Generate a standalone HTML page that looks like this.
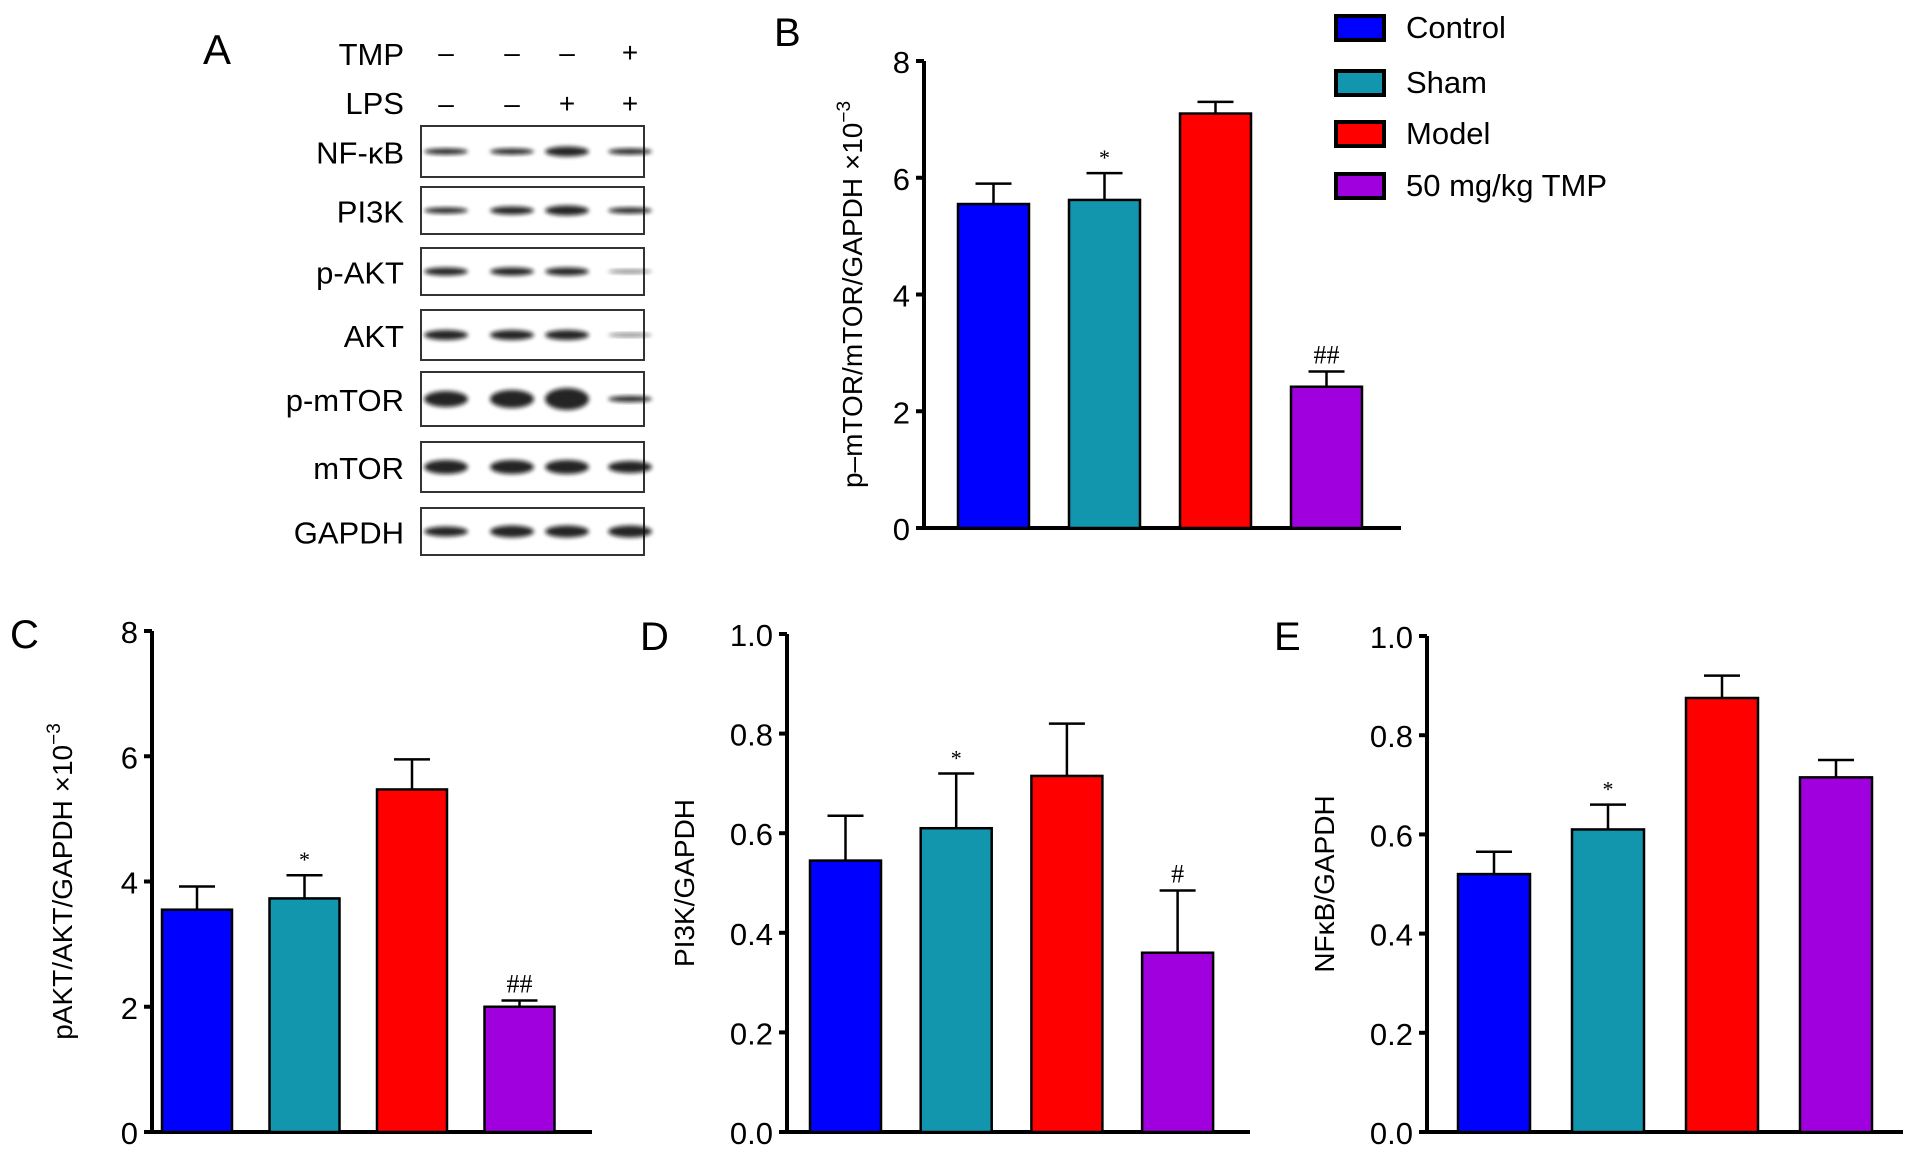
<!DOCTYPE html>
<html><head><meta charset="utf-8">
<style>
html,body{margin:0;padding:0;background:#fff;}
svg{display:block;font-family:"Liberation Sans",sans-serif;}
</style></head>
<body>
<svg id="fig" width="1913" height="1159" viewBox="0 0 1913 1159">
<defs><filter id="blur" x="-20%" y="-50%" width="140%" height="200%"><feGaussianBlur stdDeviation="2"/></filter></defs>
<g id="blot"></g>
<g id="charts"></g>
</svg>
<script>
const categories = ["Control","Sham","Model","50 mg/kg TMP"];
const colors = ["#0000ff","#1196ad","#ff0000","#a000dd"];
const valuesB = [5.55, 5.62, 7.1, 2.42];
const errorsB = [0.35, 0.46, 0.2, 0.26];
const marksB = ["", "*", "", "##"];
const ticksB = [0,2,4,6,8];
const valuesC = [3.55, 3.73, 5.47, 2.0];
const errorsC = [0.37, 0.37, 0.48, 0.1];
const marksC = ["", "*", "", "##"];
const ticksC = [0,2,4,6,8];
const valuesD = [0.545, 0.61, 0.715, 0.36];
const errorsD = [0.09, 0.11, 0.105, 0.125];
const marksD = ["", "*", "", "#"];
const ticksD = [0,0.2,0.4,0.6,0.8,1.0];
const valuesE = [0.52, 0.61, 0.875, 0.715];
const errorsE = [0.045, 0.05, 0.045, 0.035];
const marksE = ["", "*", "", ""];
const ticksE = [0,0.2,0.4,0.6,0.8,1.0];

const NS = "http://www.w3.org/2000/svg";
function mk(tag, attrs, parent, txt){
  const e = document.createElementNS(NS, tag);
  for (const k in attrs) e.setAttribute(k, attrs[k]);
  if (txt !== undefined) e.textContent = txt;
  parent.appendChild(e);
  return e;
}
const charts = document.getElementById('charts');

function drawChart(cfg){
  const g = mk('g', {}, charts);
  
  
  const yScale = v => cfg.y0 - (v - cfg.min) / (cfg.max - cfg.min) * (cfg.y0 - cfg.yTop);
  const lbl = mk('text', {x: cfg.labelX, y: cfg.labelY, 'font-size': 40}, g, cfg.letter);
  
  
  const axis = mk('path', {d: `M${cfg.ax} ${yScale(cfg.max)} V${cfg.y0} H${cfg.axEnd}`, stroke:'#000', 'stroke-width':4, fill:'none'}, g);
  
  
  cfg.ticks.forEach(t => {
    const y = yScale(t);
    mk('line', {x1: cfg.ax - 8, x2: cfg.ax, y1: y, y2: y, stroke:'#000', 'stroke-width':4}, g);
    const tl = mk('text', {x: cfg.ax - 14, y: y + 12, 'font-size': 31, 'text-anchor':'end'}, g, cfg.fmt(t));
    
    
  });
  const tt = mk('text', {transform:`translate(${cfg.titleX},${(cfg.y0 + yScale(cfg.max))/2}) rotate(-90)`, 'font-size': 28, 'text-anchor':'middle'}, g);
  
  
  tt.textContent = cfg.title;
  if (cfg.sup) { mk('tspan', {dy: -12, 'font-size': 19}, tt, cfg.sup); }
  cfg.values.forEach((v, i) => {
    const x = cfg.barX0 + i * cfg.step;
    const top = yScale(v);
    const eTop = yScale(v + cfg.errors[i]);
    const cx = x + cfg.barW / 2;
    const er = mk('path', {d:`M${cx} ${top} V${eTop} M${cx-18} ${eTop} H${cx+18}`, stroke:'#000', 'stroke-width':2.5, fill:'none'}, g);
    
    
    const b = mk('rect', {x: x, y: top, width: cfg.barW, height: cfg.y0 - top, fill: colors[i], stroke:'#000', 'stroke-width':2.5}, g);
    
    
    if (cfg.marks[i]) {
      const m = mk('text', {x: cx, y: eTop - 8, 'font-size': cfg.marks[i][0]==='*'?22:26, 'text-anchor':'middle', 'font-family':'"Liberation Serif",serif'}, g, cfg.marks[i]);
      
      
    }
  });
}
const f0 = t => String(t);
const f1 = t => t.toFixed(1);
drawChart({name:'chart-b', letter:'B', labelX:774, labelY:46, ax:924, axEnd:1401, y0:528, yTop:61, min:0, max:8, ticks:ticksB, fmt:f0, values:valuesB, errors:errorsB, marks:marksB, barX0:958, step:111, barW:71, title:'p\u2013mTOR/mTOR/GAPDH \u00d710', sup:'\u22123', titleX:862});
drawChart({name:'chart-c', letter:'C', labelX:10, labelY:648, ax:152, axEnd:592, y0:1132, yTop:631, min:0, max:8, ticks:ticksC, fmt:f0, values:valuesC, errors:errorsC, marks:marksC, barX0:162, step:107.5, barW:70, title:'pAKT/AKT/GAPDH \u00d710', sup:'\u22123', titleX:72});
drawChart({name:'chart-d', letter:'D', labelX:640, labelY:650, ax:787, axEnd:1250, y0:1132, yTop:634, min:0, max:1, ticks:ticksD, fmt:f1, values:valuesD, errors:errorsD, marks:marksD, barX0:810, step:110.7, barW:71, title:'PI3K/GAPDH', titleX:694});
drawChart({name:'chart-e', letter:'E', labelX:1274, labelY:650, ax:1427, axEnd:1903, y0:1132, yTop:636, min:0, max:1, ticks:ticksE, fmt:f1, values:valuesE, errors:errorsE, marks:marksE, barX0:1458, step:114, barW:72, title:'NF\u03baB/GAPDH', titleX:1334});

// legend
const leg = mk('g', {}, charts);


const legY = [27, 82, 133, 185];
categories.forEach((c, i) => {
  const r = mk('rect', {x:1336, y:legY[i]-11, width:48, height:24, fill:colors[i], stroke:'#000', 'stroke-width':4}, leg);
  
  
  const t = mk('text', {x:1406, y:legY[i]+11, 'font-size':31}, leg, c);
  
  
});

// blot panel
const blot = document.getElementById('blot');
const A = mk('text', {x:203, y:64, 'font-size':42}, blot, 'A');


const laneX = [446, 512, 567, 630];
const tmp = ['\u2013','\u2013','\u2013','+'];
const lps = ['\u2013','\u2013','+','+'];
const h1 = mk('text', {x:404, y:65, 'font-size':31, 'text-anchor':'end'}, blot, 'TMP');
 
const h2 = mk('text', {x:404, y:114, 'font-size':31, 'text-anchor':'end'}, blot, 'LPS');
 
laneX.forEach((x, i) => {
  mk('text', {x:x, y:62, 'font-size':28, 'text-anchor':'middle'}, blot, tmp[i]);
  mk('text', {x:x, y:113, 'font-size':28, 'text-anchor':'middle'}, blot, lps[i]);
});
const rows = [
  {n:'NF-\u03baB', y:126, h:51, w:[3,3,5,3]},
  {n:'PI3K', y:187, h:47, w:[3,4,5,3]},
  {n:'p-AKT', y:248, h:47, w:[4,4,4,2]},
  {n:'AKT', y:310, h:50, w:[5,5,5,2]},
  {n:'p-mTOR', y:372, h:54, w:[8,9,11,3]},
  {n:'mTOR', y:442, h:50, w:[7,7,7,6]},
  {n:'GAPDH', y:508, h:47, w:[5,6,6,6]}
];
rows.forEach(r => {
  const g = mk('g', {}, blot);
  
  
  mk('rect', {x:421, y:r.y, width:223, height:r.h, fill:'#fff', stroke:'#333', 'stroke-width':2}, g);
  const cy = r.y + r.h/2;
  laneX.forEach((x, i) => {
    mk('ellipse', {cx:x, cy:cy, rx:22, ry:r.w[i], fill:'#111', filter:'url(#blur)', opacity: r.w[i] < 3 ? 0.5 : 0.9}, g);
  });
  mk('text', {x:404, y:cy+12, 'font-size':31, 'text-anchor':'end'}, g, r.n);
});
</script>
</body></html>
